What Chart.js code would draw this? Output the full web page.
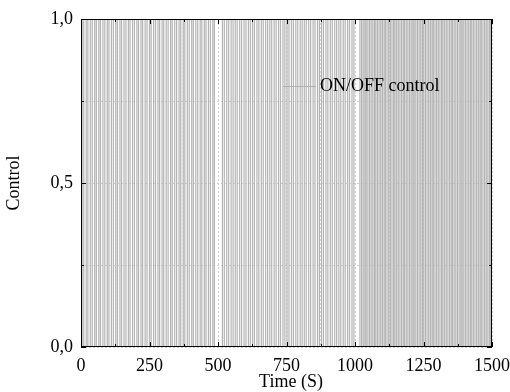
<!DOCTYPE html>
<html><head><meta charset="utf-8">
<script src="https://cdn.jsdelivr.net/npm/chart.js@4.4.1/dist/chart.umd.min.js"></script>
<style>html,body{margin:0;padding:0;background:#fff}#wrap{width:510px;height:392px}</style>
</head><body><div id="wrap"><canvas id="c" width="510" height="392"></canvas></div>
<script>
// ON pulse start / end times (s)
const onStart = [4,19,34,50,65,80,96,111,127,142,157,173,188,204,219,234,250,265,281,296,311,327,342,358,373,388,404,419,435,450,465,481,
  516,532,548,563,579,595,611,626,642,658,674,689,705,721,737,752,768,784,800,815,831,847,863,878,894,910,926,941,957,973,989,
  1018,1030,1041,1053,1065,1076,1088,1100,1111,1123,1135,1146,1158,1170,1181,1193,1205,1216,1228,1240,1251,1263,1275,1286,1298,1310,1321,1333,1345,1356,1368,1380,1391,1403,1415,1426,1438,1450,1461,1473,1485,1496];
const onEnd = [10,25,41,56,71,87,102,118,133,148,164,179,195,210,225,241,256,272,287,302,318,333,349,364,379,395,410,426,441,456,472,487,
  523,539,555,570,586,602,618,633,649,665,681,696,712,728,744,759,775,791,807,822,838,854,870,885,901,917,933,948,964,980,996,
  1024,1036,1047,1059,1071,1082,1094,1106,1117,1129,1141,1152,1164,1176,1187,1199,1211,1222,1234,1246,1257,1269,1281,1292,1304,1316,1327,1339,1351,1362,1374,1386,1397,1409,1421,1432,1444,1456,1467,1479,1491,1500];
const xTickLabels = [0,250,500,750,1000,1250,1500];
const yTickLabels = ['0,0','0,5','1,0'];
const seriesName = 'ON/OFF control';

const pts = [];
for (let i = 0; i < onStart.length; i++) {
  pts.push({x:onStart[i],y:0},{x:onStart[i],y:1},{x:onEnd[i],y:1},{x:onEnd[i],y:0});
}
const FONT = "'Liberation Serif','Times New Roman',serif";
const FS = 18;

const framePlugin = {
  id:'frame',
  afterDatasetsDraw(chart){
    const {ctx, chartArea:a, scales:{x,y}} = chart;
    ctx.save();
    ctx.strokeStyle='#000'; ctx.lineWidth=1;
    ctx.strokeRect(a.left+0.5,a.top+0.5,a.right-a.left-1,a.bottom-a.top-1);
    ctx.beginPath();
    for (let v=0; v<=1500; v+=125){
      const px=Math.round(x.getPixelForValue(v))+0.5;
      const L = (v%250===0)?5:3;
      ctx.moveTo(px,a.bottom); ctx.lineTo(px,a.bottom-L);
      ctx.moveTo(px,a.top); ctx.lineTo(px,a.top+L);
    }
    for (let v=0; v<=1.0001; v+=0.25){
      const py=Math.round(y.getPixelForValue(v))+0.5;
      const L = (Math.abs(v*2-Math.round(v*2))<1e-6)?5:3;
      ctx.moveTo(a.left,py); ctx.lineTo(a.left+L,py);
      ctx.moveTo(a.right,py); ctx.lineTo(a.right-L,py);
    }
    ctx.stroke();
    // legend
    const ly = 86;
    ctx.strokeStyle='#b0b0b0'; ctx.lineWidth=1.2;
    ctx.beginPath(); ctx.moveTo(283,ly+0.5); ctx.lineTo(316,ly+0.5); ctx.stroke();
    ctx.fillStyle='#000'; ctx.font=FS+'px '+FONT; ctx.textBaseline='middle'; ctx.textAlign='left';
    ctx.fillText(seriesName,320,ly);
    // axis titles
    ctx.textAlign='center';
    ctx.fillText('Time (S)',291,382);
    ctx.translate(14,(a.top+a.bottom)/2); ctx.rotate(-Math.PI/2);
    ctx.fillText('Control',0,0);
    ctx.restore();
  }
};

new Chart(document.getElementById('c'),{
  type:'line',
  data:{datasets:[{label:seriesName,data:pts,borderColor:'#b4b4b4',borderWidth:1.2,pointRadius:0,tension:0,fill:false}]},
  options:{
    responsive:false,animation:false,
    layout:{padding:{left:0,right:18,top:19,bottom:0}},
    plugins:{legend:{display:false},tooltip:{enabled:false}},
    scales:{
      x:{type:'linear',min:0,max:1500,
        afterFit(s){s.height=45; s.paddingLeft=0; s.paddingRight=0;},
        grid:{color:'#d0d0d0',lineWidth:1,drawTicks:false},
        border:{display:false,dash:[2,2]},
        ticks:{stepSize:125,autoSkip:false,maxRotation:0,padding:8,color:'#000',font:{family:FONT,size:FS},
          callback:(v)=> xTickLabels.includes(v)?String(v):''}},
      y:{type:'linear',min:0,max:1,
        afterFit(s){s.width=81; s.paddingTop=0; s.paddingBottom=0;},
        grid:{color:'#d0d0d0',lineWidth:1,drawTicks:false},
        border:{display:false,dash:[2,2]},
        ticks:{stepSize:0.25,autoSkip:false,padding:8,color:'#000',font:{family:FONT,size:FS},
          callback:(v)=>{const i=Math.round(v*2); return Math.abs(v*2-i)<1e-6?yTickLabels[i]:'';}}}
    }
  },
  plugins:[framePlugin]
});
</script></body></html>
